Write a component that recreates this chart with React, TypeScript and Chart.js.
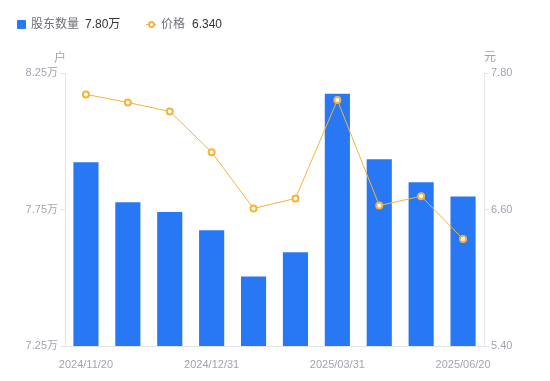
import React, { useEffect, useRef } from "react";
import { Chart, registerables } from "chart.js";

Chart.register(...registerables);

const dates = [
  "2024/11/20", "2024/11/30", "2024/12/10", "2024/12/31", "2025/01/10",
  "2025/02/28", "2025/03/31", "2025/04/30", "2025/05/30", "2025/06/20",
];
const shownDates = ["2024/11/20", "2024/12/31", "2025/03/31", "2025/06/20"];
const holders = [7.923, 7.777, 7.741, 7.674, 7.505, 7.593, 8.174, 7.934, 7.85, 7.798];
const prices = [7.612, 7.541, 7.462, 7.104, 6.609, 6.697, 7.562, 6.635, 6.717, 6.34];
const leftTicks = [7.25, 7.75, 8.25];
const rightTicks = [5.4, 6.6, 7.8];

const FONT = '"Liberation Sans", "Noto Sans CJK SC", Arial, sans-serif';
const BLUE = "#2878f5";
const ORANGE = "#f7b23b";
const TICK_COLOR = "#a3a3b0";
const LINE_COLOR = "#e3e3e8";

export default function App() {
  const ref = useRef<HTMLCanvasElement>(null);
  useEffect(() => {
    if (!ref.current) return;
    const chart = new Chart(ref.current, {
      data: {
        labels: dates,
        datasets: [
          {
            type: "line",
            label: "价格",
            data: prices,
            yAxisID: "y1",
            borderColor: ORANGE,
            borderWidth: 1,
            pointRadius: 3,
            pointBorderWidth: 2,
            pointBackgroundColor: "#ffffff",
            pointBorderColor: ORANGE,
            tension: 0,
            order: 0,
          },
          {
            type: "bar",
            label: "股东数量",
            data: holders,
            yAxisID: "y",
            backgroundColor: BLUE,
            barPercentage: 0.6,
            categoryPercentage: 1,
            order: 1,
          },
        ],
      },
      options: {
        animation: false,
        responsive: false,
        maintainAspectRatio: false,
        layout: { padding: { top: 73, left: 0, right: 0, bottom: 0 } },
        plugins: { legend: { display: false }, tooltip: { enabled: false } },
        scales: {
          x: {
            offset: true,
            grid: { display: false },
            border: { display: true, color: LINE_COLOR },
            ticks: {
              autoSkip: false,
              maxRotation: 0,
              color: TICK_COLOR,
              font: { family: FONT, size: 11 },
              padding: 4,
              callback: (_v: any, i: number) =>
                shownDates.includes(dates[i]) ? dates[i] : "",
            },
            afterFit: (s: any) => { s.height = 35; },
          },
          y: {
            position: "left",
            min: leftTicks[0],
            max: leftTicks[2],
            afterBuildTicks: (s: any) => { s.ticks = leftTicks.map((v) => ({ value: v })); },
            grid: { drawOnChartArea: false, color: LINE_COLOR, tickLength: 5 },
            border: { display: true, color: LINE_COLOR },
            ticks: {
              color: TICK_COLOR,
              font: { family: FONT, size: 11 },
              padding: 2,
              callback: (v: any) => `${Number(v).toFixed(2)}万`,
            },
            afterFit: (s: any) => { s.width = 65; },
          },
          y1: {
            position: "right",
            min: rightTicks[0],
            max: rightTicks[2],
            afterBuildTicks: (s: any) => { s.ticks = rightTicks.map((v) => ({ value: v })); },
            grid: { drawOnChartArea: false, color: LINE_COLOR, tickLength: 5 },
            border: { display: true, color: LINE_COLOR },
            ticks: {
              color: TICK_COLOR,
              font: { family: FONT, size: 11 },
              padding: 2,
              callback: (v: any) => Number(v).toFixed(2),
            },
            afterFit: (s: any) => { s.width = 66; },
          },
        },
      },
    } as any);
    return () => chart.destroy();
  }, []);

  const txt: React.CSSProperties = { position: "absolute", fontFamily: FONT, whiteSpace: "nowrap", lineHeight: "16px" };
  return (
    <div style={{ position: "fixed", left: 0, top: 0, width: 550, height: 381, background: "#fff" }}>
      <canvas ref={ref} width={550} height={381} style={{ position: "absolute", left: 0, top: 0, width: 550, height: 381 }} />
      <div style={{ position: "absolute", left: 17, top: 20, width: 9, height: 9, background: BLUE, borderRadius: 1 }} />
      <div style={{ ...txt, left: 31, top: 16, fontSize: 12, color: "#6e6e78" }}>股东数量</div>
      <div style={{ ...txt, left: 85, top: 16, fontSize: 12, color: "#333" }}>7.80万</div>
      <div style={{ position: "absolute", left: 146, top: 24, width: 10, height: 1, background: ORANGE }} />
      <div style={{ position: "absolute", left: 148, top: 21, width: 3, height: 3, border: `2px solid ${ORANGE}`, borderRadius: "50%", background: "#fff" }} />
      <div style={{ ...txt, left: 161, top: 16, fontSize: 12, color: "#6e6e78" }}>价格</div>
      <div style={{ ...txt, left: 192, top: 16, fontSize: 12, color: "#333" }}>6.340</div>
      <div style={{ ...txt, left: 54, top: 50, fontSize: 12, color: TICK_COLOR }}>户</div>
      <div style={{ ...txt, left: 484, top: 49, fontSize: 12, color: TICK_COLOR }}>元</div>
    </div>
  );
}
